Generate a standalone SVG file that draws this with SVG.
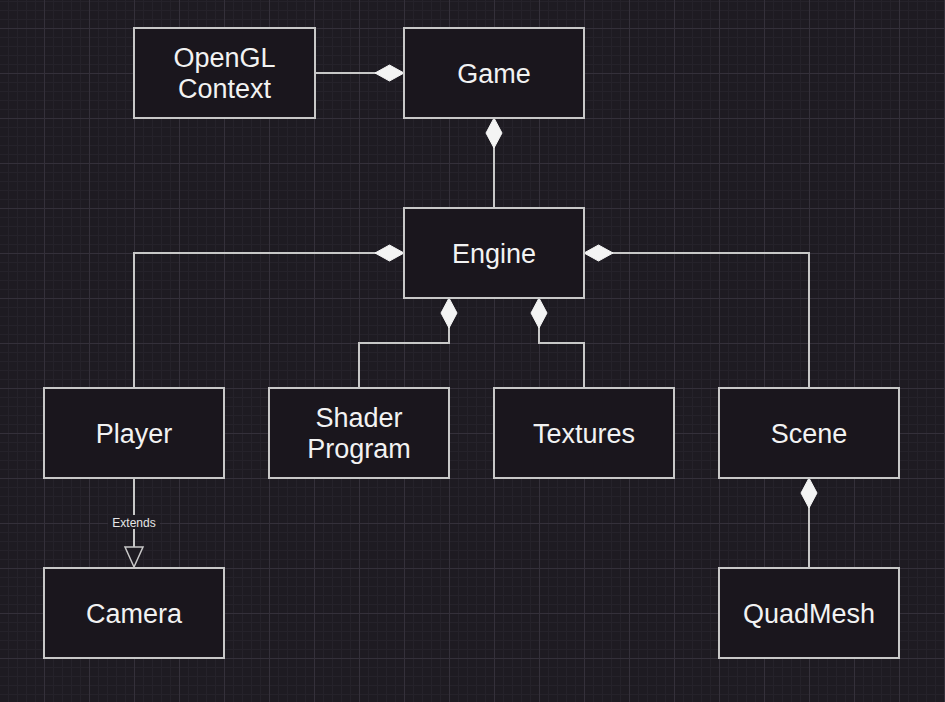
<svg xmlns="http://www.w3.org/2000/svg" width="945" height="702" viewBox="0 0 945 702">
<style>
.box rect{fill:#1a161d;stroke:#c8c8c8;stroke-width:2}
.box text{fill:#f2f2f2;font-family:"Liberation Sans",Arial,sans-serif;font-size:27px;text-anchor:middle}
.edge{fill:none;stroke:#c8c8c8;stroke-width:2}
.dia{fill:#f4f4f4;stroke:#f4f4f4;stroke-width:1}
</style>
<defs>
<pattern id="minor" x="8" y="1" width="9" height="9" patternUnits="userSpaceOnUse">
<path d="M0 0.5H9M0.5 0V9" stroke="#25222a" stroke-width="1" fill="none"/>
</pattern>
<pattern id="major" x="44" y="28" width="45" height="45" patternUnits="userSpaceOnUse">
<path d="M0 0.5H45M0.5 0V45" stroke="#34303a" stroke-width="1" fill="none"/>
</pattern>
</defs>
<rect width="945" height="702" fill="#1e1b22"/>
<rect width="945" height="702" fill="url(#minor)"/>
<rect width="945" height="702" fill="url(#major)"/>

<g id="connectors">
<path class="edge" d="M315 73H377"/>
<polygon class="dia" points="375,73 389.5,65 404,73 389.5,81"/>
<path class="edge" d="M494 146V208"/>
<polygon class="dia" points="494,118 502,133 494,148 486,133"/>
<path class="edge" d="M134 388V253H377"/>
<polygon class="dia" points="375,253 389.5,245 404,253 389.5,261"/>
<path class="edge" d="M809 388V253H612"/>
<polygon class="dia" points="584,253 598.5,245 613,253 598.5,261"/>
<path class="edge" d="M359 388V343H449V326"/>
<polygon class="dia" points="449,298 457,313 449,328 441,313"/>
<path class="edge" d="M584 388V343H539V326"/>
<polygon class="dia" points="539,298 547,313 539,328 531,313"/>
<path class="edge" d="M809 506V568"/>
<polygon class="dia" points="809,478 817,493 809,508 801,493"/>
<path class="edge" d="M134 478V547"/>
<polygon points="125,547 143,547 134,567" fill="#1e1b22" stroke="#c8c8c8" stroke-width="1.5"/>
<rect x="108" y="515" width="52" height="14" fill="#1e1b22"/>
<text x="134" y="526.5" fill="#e6e6e6" font-family="'Liberation Sans',Arial,sans-serif" font-size="12" text-anchor="middle">Extends</text>
</g>

<g id="opengl" class="box"><rect x="134" y="28" width="181" height="90"/><text x="224.5" y="67">OpenGL</text><text x="224.5" y="98">Context</text></g>
<g id="game" class="box"><rect x="404" y="28" width="180" height="90"/><text x="494" y="83">Game</text></g>
<g id="engine" class="box"><rect x="404" y="208" width="180" height="90"/><text x="494" y="263">Engine</text></g>
<g id="player" class="box"><rect x="44" y="388" width="180" height="90"/><text x="134" y="443">Player</text></g>
<g id="shader" class="box"><rect x="269" y="388" width="180" height="90"/><text x="359" y="427">Shader</text><text x="359" y="458">Program</text></g>
<g id="textures" class="box"><rect x="494" y="388" width="180" height="90"/><text x="584" y="443">Textures</text></g>
<g id="scene" class="box"><rect x="719" y="388" width="180" height="90"/><text x="809" y="443">Scene</text></g>
<g id="camera" class="box"><rect x="44" y="568" width="180" height="90"/><text x="134" y="623">Camera</text></g>
<g id="quadmesh" class="box"><rect x="719" y="568" width="180" height="90"/><text x="809" y="623">QuadMesh</text></g>
</svg>
